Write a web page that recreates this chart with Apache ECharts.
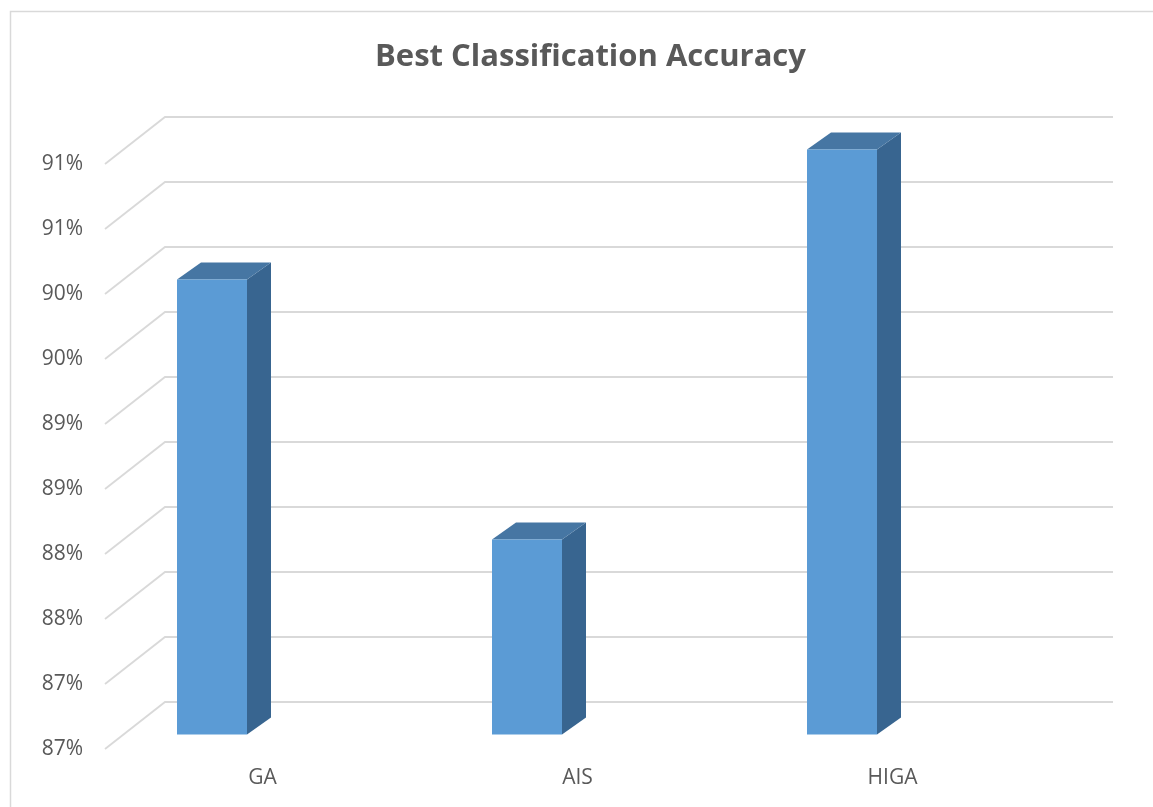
<!DOCTYPE html>
<html>
<head>
<meta charset="utf-8">
<script src="https://cdn.jsdelivr.net/npm/echarts@6/dist/echarts.min.js"></script>
<style>html,body{margin:0;padding:0;background:#fff;}#chart{width:1153px;height:807px;}</style>
</head>
<body>
<div id="chart"></div>
<script>
var categories = ['GA', 'AIS', 'HIGA'];
var accuracy = [90.0, 88.0, 91.0];
var yTicks = [86.5, 87, 87.5, 88, 88.5, 89, 89.5, 90, 90.5, 91];
var yTickLabels = ['87%', '87%', '88%', '88%', '89%', '89%', '90%', '90%', '91%', '91%'];

var WALL_DX = 60, WALL_DY = 47;      // depth of the 3D box
var BAR_FX = 0, BAR_FY = 14.5;       // bar front plane offset from front wall
var BAR_DX = 24, BAR_DY = 17;        // bar depth
var BAR_LEFT = -85.5, BAR_W = 70;    // bar front face relative to category centre

var chart = echarts.init(document.getElementById('chart'));

var option = {
  backgroundColor: '#ffffff',
  animation: false,
  graphic: [{
    type: 'rect', silent: true, z: -10,
    shape: { x: 10.5, y: 11.5, width: 1200, height: 900 },
    style: { fill: 'none', stroke: '#d9d9d9', lineWidth: 1.5 }
  }],
  title: {
    text: 'Best Classification Accuracy',
    left: 370,
    top: 37,
    textStyle: {
      fontFamily: "'Open Sans', sans-serif",
      fontWeight: 'bold',
      fontSize: 31,
      color: '#595959'
    }
  },
  grid: { left: 105, right: 103, top: 164, bottom: 58 },
  xAxis: {
    type: 'category',
    data: categories,
    axisLine: { show: false },
    axisTick: { show: false },
    splitLine: { show: false },
    axisLabel: {
      margin: 19,
      fontFamily: "'Open Sans', sans-serif",
      fontSize: 21,
      color: '#595959'
    }
  },
  yAxis: {
    type: 'value',
    min: 86.5,
    max: 91,
    interval: 0.5,
    axisLine: { show: false },
    axisTick: { show: false },
    splitLine: { show: false },
    axisLabel: {
      margin: 22,
      fontFamily: "'Open Sans', sans-serif",
      fontSize: 21,
      color: '#595959',
      formatter: function (v, i) {
        var k = yTicks.indexOf(v);
        return k >= 0 ? yTickLabels[k] : '';
      }
    }
  },
  series: [
    {
      type: 'custom',
      name: 'gridlines',
      silent: true,
      z: 1,
      data: yTicks.map(function (t) { return [0, t]; }),
      encode: { x: 0, y: 1 },
      renderItem: function (params, api) {
        var cs = params.coordSys;
        var p = api.coord([0, api.value(1)]);
        var x0 = cs.x, x1 = cs.x + cs.width, y = p[1];
        return {
          type: 'polyline',
          shape: { points: [[x0, y], [x0 + WALL_DX, y - WALL_DY], [x1 + WALL_DX + 3, y - WALL_DY]] },
          style: { fill: 'none', stroke: '#d9d9d9', lineWidth: 1.8 }
        };
      }
    },
    {
      type: 'custom',
      name: 'Accuracy',
      z: 5,
      data: accuracy.map(function (v, i) { return [i, v]; }),
      encode: { x: 0, y: 1 },
      renderItem: function (params, api) {
        var i = api.value(0), v = api.value(1);
        var top = api.coord([i, v]);
        var base = api.coord([i, 86.5]);
        var xL = top[0] + BAR_LEFT + BAR_FX, xR = xL + BAR_W;
        var yT = top[1] - BAR_FY, yB = base[1] - BAR_FY;
        return {
          type: 'group',
          children: [
            {
              type: 'polygon',
              shape: { points: [[xR, yT], [xR + BAR_DX, yT - BAR_DY], [xR + BAR_DX, yB - BAR_DY], [xR, yB]] },
              style: { fill: '#386590' }
            },
            {
              type: 'polygon',
              shape: { points: [[xL, yT], [xL + BAR_DX, yT - BAR_DY], [xR + BAR_DX, yT - BAR_DY], [xR, yT]] },
              style: { fill: '#4676a3' }
            },
            {
              type: 'rect',
              shape: { x: xL, y: yT, width: BAR_W, height: yB - yT },
              style: { fill: '#5b9bd5' }
            }
          ]
        };
      }
    }
  ]
};
chart.setOption(option);
</script>
</body>
</html>
